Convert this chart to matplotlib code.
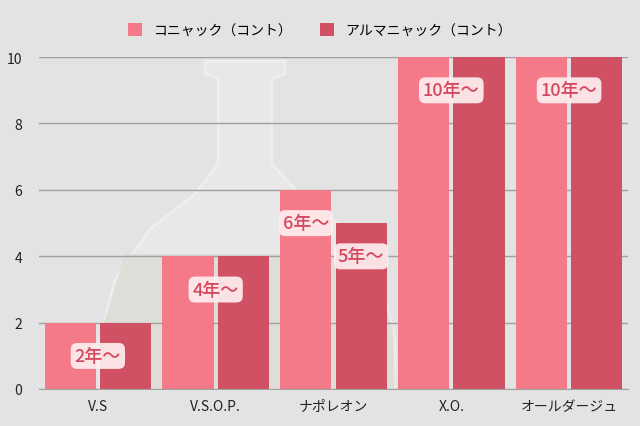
import matplotlib.pyplot as plt
import numpy as np
from matplotlib.patches import Polygon

plt.rcParams['font.family'] = ['Noto Sans CJK JP', 'DejaVu Sans']

categories = ['V.S', 'V.S.O.P.', 'ナポレオン', 'X.O.', 'オールダージュ']
cognac = [2, 4, 6, 10, 10]
armagnac = [2, 4, 5, 10, 10]
series_names = ['コニャック（コント）', 'アルマニャック（コント）']

# labels: (category index, which bar: -1 cognac, +1 armagnac, 0 pair centre, value, text)
labels = [(0, 0, 2, '2年～'), (1, 0, 4, '4年～'), (2, -1, 6, '6年～'),
          (2, 1, 5, '5年～'), (3, 0, 10, '10年～'), (4, 0, 10, '10年～')]

bg = '#e3e3e3'
c1 = '#f47a89'
c2 = '#d05163'

fig = plt.figure(figsize=(6.4, 4.27), dpi=100, facecolor=bg)

# faint bottle from the background photo (pixel outline -> figure fraction)
bottle = [(205, 62), (285, 62), (285, 75), (272, 80), (272, 165), (300, 195),
          (345, 230), (380, 280), (395, 340), (395, 390), (100, 390), (100, 340),
          (115, 280), (150, 230), (195, 195), (218, 165), (218, 80), (205, 75)]
fig.patches.append(Polygon([(px / 640, 1 - py / 427) for px, py in bottle],
                           closed=True, transform=fig.transFigure,
                           fc='#ececec', ec='#f4f4f4', lw=2, alpha=0.6, zorder=0))
liquid = [(100, 390), (102, 330), (125, 255), (370, 255), (393, 330), (395, 390)]
fig.patches.append(Polygon([(px / 640, 1 - py / 427) for px, py in liquid],
                           closed=True, transform=fig.transFigure,
                           fc='#d8d4c8', ec='none', alpha=0.5, zorder=0))

ax = fig.add_axes([39 / 640, 37 / 427, 589 / 640, 332 / 427])
ax.patch.set_visible(False)
ax.set_zorder(2)

x = np.arange(len(categories))
w = 0.435
gap = 0.017
ax.bar(x - w / 2 - gap, cognac, w, color=c1, label=series_names[0], zorder=3)
ax.bar(x + w / 2 + gap, armagnac, w, color=c2, label=series_names[1], zorder=3)

ax.set_xlim(-0.5, len(categories) - 0.5)
ax.set_ylim(0, 10)
ax.set_yticks([0, 2, 4, 6, 8, 10])
ax.yaxis.grid(True, color='#a0a0a0', linewidth=1, zorder=1)
ax.set_xticks(x)
ax.set_xticklabels(categories, fontsize=10, color='#222222')
ax.tick_params(axis='y', labelsize=10, colors='#222222', length=0, pad=12)
ax.tick_params(axis='x', length=0, pad=7)
for s in ['top', 'right', 'left']:
    ax.spines[s].set_visible(False)
ax.spines['bottom'].set_color('#a0a0a0')
ax.spines['bottom'].set_zorder(4)

for i, side, val, txt in labels:
    xpos = i + side * (w / 2 + gap)
    ax.annotate(txt, (xpos, val), xytext=(0, -24), textcoords='offset points',
                ha='center', va='center', fontsize=13, fontweight='medium',
                color='#d6485e', zorder=5,
                bbox=dict(boxstyle='round,pad=0.22,rounding_size=0.35',
                          fc='#fdeef0', ec='none', alpha=0.92))

fig.legend(loc='upper center', bbox_to_anchor=(0.5, 0.972), ncol=2, frameon=False,
           fontsize=10, handlelength=1.0, handleheight=1.0, columnspacing=2.0,
           handletextpad=0.8)

fig.savefig('out.png', dpi=100, facecolor=bg)
